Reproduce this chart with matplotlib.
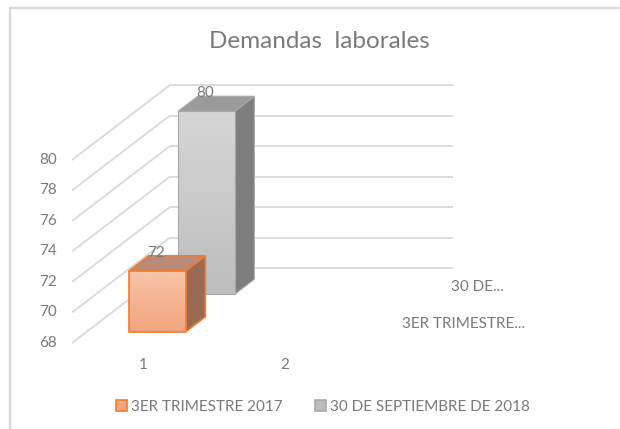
import numpy as np
import matplotlib
matplotlib.use("Agg")
import matplotlib.pyplot as plt
from matplotlib.transforms import Affine2D
from matplotlib.patches import Polygon, Patch
from matplotlib.colors import LinearSegmentedColormap
from matplotlib.lines import Line2D

# ---------------- data ----------------
title = "Demandas  laborales"
categories = ["1", "2"]
series_names = ["3ER TRIMESTRE 2017", "30 DE SEPTIEMBRE DE 2018"]
depth_labels = ["3ER TRIMESTRE...", "30 DE..."]
values_3er_2017 = [72, np.nan]
values_30_sep_2018 = [80, np.nan]
y_ticks = [68, 70, 72, 74, 76, 78, 80]

# ---------------- style ----------------
plt.rcParams['font.family'] = ['Lato', 'DejaVu Sans']
TXT = '#7a7a7a'
GRID = '#d9d9d9'
YMIN, YMAX = 68, 80
DX, DY = 0.6926, 4.918          # full depth offset in data units (oblique projection)
BAR_W = 0.4
ROW_D = [(0.15, 0.35), (0.65, 0.85)]   # depth span of each series row

styles = [
    dict(top='#f8c4a9', bot='#f3a47d', face_top='#b98a77', face_side='#9a6a54', edge='#ed7d31', lw=1.2),
    dict(top='#d6d6d6', bot='#bdbdbd', face_top='#9b9b9b', face_side='#7d7d7d', edge='#a8a8a8', lw=0.8),
]

fig = plt.figure(figsize=(6.2, 4.29), dpi=100)
ax = fig.add_axes([0, 0, 1, 1])
ax.set_axis_off()

XLIM = (-72 / 141.5, (620 - 72) / 141.5)
YLIM = (68 - 86 / 15.25, 68 + 343 / 15.25)


def proj(x, v, d):
    return (x + d * DX, v + d * DY)


def shift(d):
    return Affine2D().translate(d * DX, d * DY) + ax.transData


# gridlines: back wall and left side wall
ncat = len(categories)
for v in y_ticks:
    p0 = proj(0, v, 1); p1 = proj(ncat, v, 1)
    ax.plot([p0[0], p1[0]], [p0[1], p1[1]], color=GRID, lw=1.3, zorder=1, solid_capstyle='butt')
    q0 = proj(0, v, 0)
    ax.plot([q0[0], p0[0]], [q0[1], p0[1]], color=GRID, lw=1.3, zorder=1, solid_capstyle='butt')
    ax.text(q0[0], q0[1], str(v), transform=ax.transData + Affine2D().translate(-15, 0),
            ha='right', va='center', fontsize=11, color=TXT)

# category labels
for i, c in enumerate(categories):
    p = proj(i + 0.5, YMIN, 0)
    ax.annotate(c, p, xytext=(0, -16), textcoords='offset points', ha='center', va='center',
                fontsize=11, color=TXT)

# depth labels
for r, lab in enumerate(depth_labels):
    d = (ROW_D[r][0] + ROW_D[r][1]) / 2
    p = proj(ncat, YMIN, d)
    ax.annotate(lab, p, xytext=(16, 0), textcoords='offset points', ha='left', va='center',
                fontsize=11, color=TXT)

# bars: back row first
all_series = [values_3er_2017, values_30_sep_2018]
for r in [1, 0]:
    vals = all_series[r]
    st = styles[r]
    d0, d1 = ROW_D[r]
    z = 10 + (1 - r) * 10
    for i, v in enumerate(vals):
        if np.isnan(v):
            continue
        xl = i + 0.5 - BAR_W / 2
        xr = i + 0.5 + BAR_W / 2
        # side face
        side = Polygon([proj(xr, YMIN, d0), proj(xr, v, d0), proj(xr, v, d1), proj(xr, YMIN, d1)],
                       closed=True, facecolor=st['face_side'], edgecolor=st['edge'], lw=st['lw'], zorder=z)
        ax.add_patch(side)
        # top face
        top = Polygon([proj(xl, v, d0), proj(xr, v, d0), proj(xr, v, d1), proj(xl, v, d1)],
                      closed=True, facecolor=st['face_top'], edgecolor=st['edge'], lw=st['lw'], zorder=z)
        ax.add_patch(top)
        # front face with vertical gradient
        T = shift(d0)
        bars = ax.bar([i + 0.5], [v - YMIN], bottom=YMIN, width=BAR_W, facecolor='none',
                      edgecolor=st['edge'], lw=st['lw'], zorder=z + 2, transform=T)
        cmap = LinearSegmentedColormap.from_list('g', [st['bot'], st['top']])
        grad = np.linspace(0, 1, 256).reshape(-1, 1)
        im = ax.imshow(grad, extent=(xl, xr, YMIN, v), origin='lower', cmap=cmap, aspect='auto',
                       transform=T, zorder=z + 1, interpolation='bilinear')
        im.set_clip_path(bars.patches[0])
        # data label
        lp = proj(i + 0.5, v, d1)
        ax.annotate(f"{v:g}", lp, xytext=(-15, 2), textcoords='offset points', ha='center',
                    va='center', fontsize=11, color=TXT, zorder=30)

ax.set_xlim(*XLIM)
ax.set_ylim(*YLIM)

# title
fig.text(319 / 620, 1 - 42 / 429, title, ha='center', va='center', fontsize=17.5, color=TXT)

# legend
handles = [Patch(facecolor=styles[k]['bot'], edgecolor=styles[k]['edge'], lw=1.2) for k in range(2)]
fig.legend(handles, series_names, loc='center', bbox_to_anchor=(323 / 620, 1 - 407 / 429), ncol=2,
           frameon=False, fontsize=11, labelcolor=TXT, handlelength=0.7, handleheight=0.7,
           handletextpad=0.3, columnspacing=2.1)

# chart-area border (left and top)
fig.add_artist(Line2D([9.5 / 620, 9.5 / 620], [0, 1 - 7.5 / 429], color=GRID, lw=1.6))
fig.add_artist(Line2D([9.5 / 620, 1], [1 - 7.5 / 429, 1 - 7.5 / 429], color=GRID, lw=1.6))

fig.savefig('out.png', dpi=100)
